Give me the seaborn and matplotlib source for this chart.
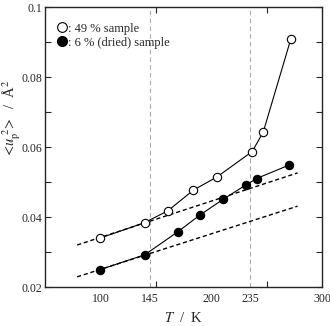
import matplotlib
matplotlib.use("Agg")
import matplotlib.pyplot as plt
import seaborn as sns
import pandas as pd
from matplotlib.lines import Line2D

# data
T_wet = [100, 140, 161, 184, 205, 237, 247, 272]
u_wet = [0.0340, 0.0384, 0.0418, 0.0477, 0.0514, 0.0587, 0.0643, 0.0910]
T_dry = [100, 140, 170, 190, 211, 231, 241, 270]
u_dry = [0.0250, 0.0292, 0.0358, 0.0406, 0.0451, 0.0491, 0.0510, 0.0548]
fit_T = [79, 278]
fit_wet = [0.0320, 0.0526]
fit_dry = [0.0229, 0.0431]
vlines_T = [145, 235]
xtick_labels = [100, 145, 200, 235, 300]
xminor = [100, 150, 200, 250, 300]

sns.set_style("ticks")
plt.rcParams['font.family'] = ['Liberation Serif', 'DejaVu Serif']
plt.rcParams['mathtext.fontset'] = 'stix'

fig = plt.figure(figsize=(3.30, 3.26), dpi=100)
ax = fig.add_axes([45/330, 1 - 287/326, (322 - 45)/330, (287 - 7)/326])

for v in vlines_T:
    ax.axvline(v, color='#aaaaaa', lw=0.8, ls=(0, (4, 3)), zorder=0)

ax.plot(fit_T, fit_wet, color='black', lw=1.0, ls=(0, (3, 2)), zorder=1)
ax.plot(fit_T, fit_dry, color='black', lw=1.0, ls=(0, (3, 2)), zorder=1)

dw = pd.DataFrame({'T': T_wet, 'u': u_wet})
dd = pd.DataFrame({'T': T_dry, 'u': u_dry})
sns.lineplot(data=dw, x='T', y='u', ax=ax, color='black', lw=0.8, marker='o',
             markersize=6, markerfacecolor='white', markeredgecolor='black',
             markeredgewidth=0.8, zorder=3)
sns.lineplot(data=dd, x='T', y='u', ax=ax, color='black', lw=0.8, marker='o',
             markersize=6, markerfacecolor='black', markeredgecolor='black',
             markeredgewidth=0.8, zorder=3)

ax.set_xlim(50, 300)
ax.set_ylim(0.02, 0.1)
ax.set_xticks(xtick_labels)
ax.set_xticklabels([str(v) for v in xtick_labels])
ax.set_xticks(xminor, minor=True)
ax.tick_params(axis='x', which='major', length=0, pad=4, labelsize=8.5)
ax.tick_params(axis='x', which='minor', direction='in', length=4, top=True, bottom=True, width=0.8)
ax.set_yticks([0.02, 0.04, 0.06, 0.08, 0.1])
ax.set_yticklabels(['0.02', '0.04', '0.06', '0.08', '0.1'])
ax.set_yticks([0.03, 0.05, 0.07, 0.09], minor=True)
ax.tick_params(axis='y', which='both', direction='in', length=4, left=True, right=True, width=0.8, labelsize=8.5, pad=2)
for s in ax.spines.values():
    s.set_linewidth(1.0)
    s.set_visible(True)

ax.set_xlabel(r'$T$  /  K', fontsize=10.5, labelpad=5)
ax.set_ylabel(r'$<\!u_{\mathrm{p}}^{\ 2}\!>$  /  Å$^{2}$', fontsize=10.5)
ax.yaxis.set_label_coords(-0.08, 0.6)

handles = [Line2D([], [], ls='none', marker='o', markersize=7, markerfacecolor='white', markeredgecolor='black', markeredgewidth=0.8),
           Line2D([], [], ls='none', marker='o', markersize=7, markerfacecolor='black', markeredgecolor='black')]
ax.legend(handles, [': 49 % sample', ': 6 % (dried) sample'], loc='upper left',
          frameon=False, handlelength=0.8, handletextpad=0.1, labelspacing=0.15,
          borderaxespad=0.3, fontsize=9, bbox_to_anchor=(0.01, 0.975))

fig.savefig('out.png', dpi=100)
